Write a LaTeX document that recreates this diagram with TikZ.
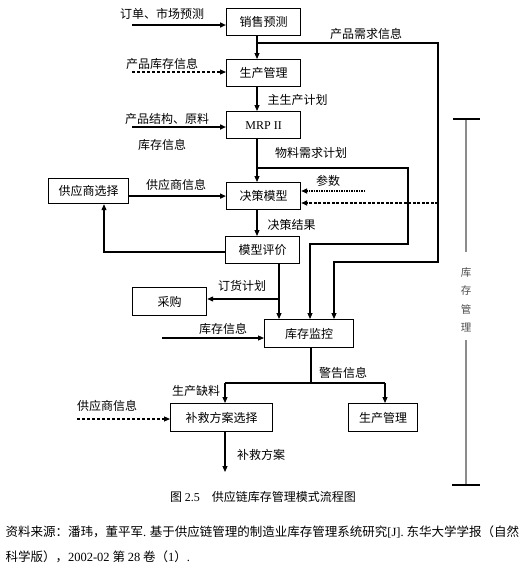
\documentclass[tikz,border=0pt]{standalone}
\usepackage{fontspec}
\setmainfont{Liberation Serif}
\newfontfamily\cjk{Noto Sans CJK SC}
\usetikzlibrary{arrows.meta}

\tikzset{
  box/.style={draw,rectangle,line width=1.2pt,inner sep=0pt,anchor=north west,
    minimum width=74pt,minimum height=27pt,font=\cjk\fontsize{12}{14}\selectfont},
  lbl/.style={inner sep=0pt,font=\cjk\fontsize{12}{14}\selectfont},
  arr/.style={-{Triangle[length=6pt,width=5pt]}},
}

\begin{document}
\begin{tikzpicture}[x=1pt,y=-1pt,line width=1.1pt]
  \useasboundingbox (0,0) rectangle (522,570);

  % process boxes
  \node[box] (xsyc) at (226,8) {销售预测};
  \node[box] (scgl) at (226,59) {生产管理};
  \node[box,font=\rmfamily\fontsize{12}{14}\selectfont] (mrp) at (226,111) {MRP II};
  \node[box] (jcmx) at (226,182) {决策模型};
  \node[box] (mxpj) at (225,236) {模型评价};
  \node[box,minimum width=80pt,minimum height=25pt] (gysxz) at (48,178) {供应商选择};
  \node[box,minimum height=28pt] (cg) at (132,287) {采购};
  \node[box,minimum width=89pt,minimum height=28pt] (kcjk) at (264,319) {库存监控};
  \node[box,minimum width=102pt,minimum height=28pt] (bjfa) at (170,403) {补救方案选择};
  \node[box,minimum width=69pt,minimum height=28pt] (scgl2) at (348,403) {生产管理};

  % free ends and bends
  \coordinate (vx) at (257,0);
  \coordinate (in1) at (132,25);
  \coordinate (in2) at (132,72);
  \coordinate (in3) at (132,127);
  \coordinate (b1) at (438,43);
  \coordinate (b2) at (334,262);
  \coordinate (a1) at (408,168);
  \coordinate (a2) at (310,244);
  \coordinate (cs) at (365,191);
  \coordinate (ds) at (438,203);
  \coordinate (g1) at (104,252);
  \coordinate (o1) at (279,299);
  \coordinate (in4) at (162,338);
  \coordinate (w1) at (311,383);
  \coordinate (w2) at (225,383);
  \coordinate (w3) at (385,383);
  \coordinate (in5) at (77,419);
  \coordinate (out) at (225,472);

  % inputs on the left
  \draw[arr,line width=2pt] (in1) -- (in1 -| xsyc.west);
  \draw[arr,densely dashed] (in2) -- (in2 -| scgl.west);
  \draw[arr,line width=2pt] (in3) -- (in3 -| mrp.west);

  % main chain
  \draw[arr] (xsyc.south -| vx) -- (scgl.north -| vx);
  \draw[arr] (scgl.south -| vx) -- (mrp.north -| vx);
  \draw[arr] (mrp.south -| vx) -- (jcmx.north -| vx);
  \draw[arr] (jcmx.south -| vx) -- (mxpj.north -| vx);

  % feedback lines to the stock monitor
  \draw[arr] (vx |- b1) -- (b1) |- (b2) -- (b2 |- kcjk.north);
  \draw[arr] (vx |- a1) -- (a1) |- (a2) -- (a2 |- kcjk.north);
  \draw[arr,dashed,dash pattern=on 3pt off 1.5pt,line width=1.5pt] (ds) -- (ds -| jcmx.east);
  \draw[arr,dash pattern=on 1.5pt off 1pt,line width=2.2pt] (cs) -- (cs -| jcmx.east);

  % supplier selection
  \draw[arr,line width=2.6pt] (gysxz.east |- jcmx.west) -- (jcmx.west);
  \draw[arr] (mxpj.west |- g1) -- (g1) -- (g1 |- gysxz.south);

  % evaluation to purchase and monitor
  \draw[arr] (mxpj.south -| o1) -- (o1 |- kcjk.north);
  \draw[arr] (o1) -- (o1 -| cg.east);
  \draw[arr] (in4) -- (in4 -| kcjk.west);

  % warnings
  \draw (kcjk.south -| w1) -- (w1);
  \draw (w2) -- (w3);
  \draw[arr] (w2) -- (w2 |- bjfa.north);
  \draw[arr] (w3) -- (w3 |- scgl2.north);
  \draw[arr,densely dashed] (in5) -- (in5 -| bjfa.west);
  \draw[arr] (bjfa.south -| w2) -- (out);

  % connector labels
  \node[lbl] (t1) at (162,14) {订单、市场预测};
  \node[lbl] (t2) at (162,64) {产品库存信息};
  \node[lbl] (t3) at (167,119) {产品结构、原料};
  \node[lbl] (t4) at (162,145) {库存信息};
  \node[lbl] (t5) at (366,34) {产品需求信息};
  \node[lbl,anchor=west] (t6) at (267,100) {主生产计划};
  \node[lbl] (t7) at (311,153) {物料需求计划};
  \node[lbl] (t8) at (328,181) {参数};
  \node[lbl] (t9) at (176,185) {供应商信息};
  \node[lbl,anchor=west] (t10) at (267,225) {决策结果};
  \node[lbl] (t11) at (242,286) {订货计划};
  \node[lbl] (t12) at (223,329) {库存信息};
  \node[lbl] (t13) at (343,373) {警告信息};
  \node[lbl] (t14) at (196,391) {生产缺料};
  \node[lbl] (t15) at (107,406) {供应商信息};
  \node[lbl] (t16) at (261,455) {补救方案};

  % stock management bracket
  \draw[black!45] (466,119) -- (466,252) (466,340) -- (466,485);
  \draw[line width=2pt] (453,119) -- (480,119) (452,485) -- (480,485);
  \node[lbl,align=center,text=black!70,font=\cjk\fontsize{10.5}{18.5}\selectfont] (kcgl) at (466,300) {库\\存\\管\\理};

  % caption and source
  \node[lbl] (cap) at (263,497) {图 {\rmfamily 2.5}\quad 供应链库存管理模式流程图};
  \node[lbl,anchor=west,font=\cjk\fontsize{12.5}{14}\selectfont] (src1) at (5,532) {资料来源：潘玮，董平军{\rmfamily.} 基于供应链管理的制造业库存管理系统研究{\rmfamily[J].} 东华大学学报（自然};
  \node[lbl,anchor=west,font=\cjk\fontsize{12.5}{14}\selectfont] (src2) at (5,557) {科学版），{\rmfamily 2002-02} 第 {\rmfamily 28} 卷（{\rmfamily 1}）{\rmfamily.}};
\end{tikzpicture}
\end{document}
